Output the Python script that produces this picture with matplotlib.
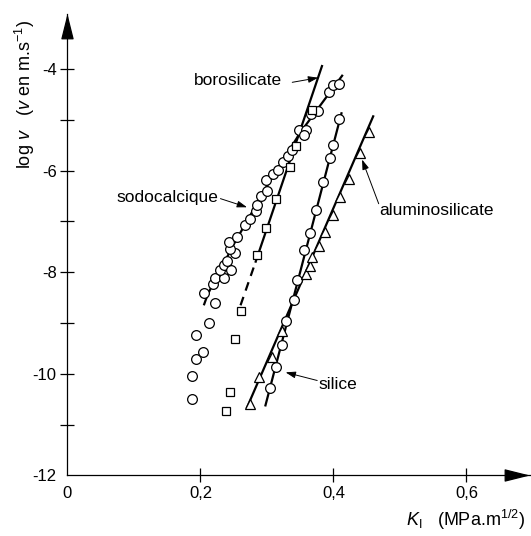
import numpy as np
import matplotlib.pyplot as plt

plt.rcParams['font.family'] = ['Liberation Sans', 'DejaVu Sans']
plt.rcParams['mathtext.fontset'] = 'custom'
plt.rcParams['mathtext.rm'] = 'Liberation Sans'
plt.rcParams['mathtext.it'] = 'Liberation Sans:italic'

# --- data (K_I in MPa.m^1/2, log v) ---
sodo_k = [0.1875, 0.1865, 0.1925, 0.2035, 0.194, 0.2135, 0.2215, 0.206, 0.2185,
          0.2215, 0.235, 0.229, 0.236, 0.246, 0.240, 0.2516, 0.245, 0.2436, 0.255,
          0.2666, 0.275, 0.283, 0.285, 0.291, 0.300, 0.299, 0.309, 0.317, 0.324,
          0.332, 0.338, 0.348, 0.358, 0.355, 0.366, 0.376, 0.393, 0.400, 0.408]
sodo_logv = [-10.49, -10.05, -9.70, -9.56, -9.24, -8.99, -8.61, -8.40, -8.23,
             -8.12, -8.12, -7.96, -7.85, -7.95, -7.78, -7.62, -7.54, -7.41, -7.31,
             -7.06, -6.96, -6.80, -6.67, -6.50, -6.39, -6.19, -6.06, -5.98, -5.82,
             -5.71, -5.59, -5.19, -5.19, -5.29, -4.89, -4.83, -4.45, -4.32, -4.30]

boro_k = [0.239, 0.244, 0.2516, 0.261, 0.285, 0.299, 0.313, 0.334, 0.344, 0.367]
boro_logv = [-10.73, -10.35, -9.31, -8.77, -7.66, -7.12, -6.55, -5.93, -5.51, -4.80]

sil_k = [0.304, 0.314, 0.323, 0.329, 0.341, 0.345, 0.356, 0.365, 0.373, 0.384,
         0.3955, 0.400, 0.408]
sil_logv = [-10.27, -9.87, -9.44, -8.96, -8.54, -8.15, -7.56, -7.22, -6.78, -6.23,
            -5.75, -5.50, -4.98]

alu_k = [0.275, 0.288, 0.308, 0.3225, 0.359, 0.365, 0.367, 0.378, 0.387, 0.400,
         0.4105, 0.423, 0.4406, 0.453]
alu_logv = [-10.60, -10.06, -9.67, -9.15, -8.03, -7.88, -7.69, -7.49, -7.21, -6.88,
            -6.51, -6.16, -5.66, -5.24]

# hand-drawn trend lines (dashed part, solid part)
sodo_dash_k, sodo_dash_v = [0.205, 0.211], [-8.65, -8.43]
sodo_fit_k, sodo_fit_v = [0.211, 0.25, 0.30, 0.35, 0.413], [-8.43, -7.45, -6.30, -5.25, -4.13]
boro_dash_k, boro_dash_v = [0.2602, 0.283], [-8.65, -7.79]
boro_fit_k, boro_fit_v = [0.283, 0.3827], [-7.79, -3.94]
sil_fit_k, sil_fit_v = [0.2977, 0.412], [-10.62, -4.87]
alu_fit_k, alu_fit_v = [0.270, 0.4597], [-10.66, -4.93]

fig = plt.figure(figsize=(5.31, 5.36), dpi=100)
ax = fig.add_axes([0.1271, 0.1129, 0.871, 0.861])

lw = 1.6
ax.plot(sodo_dash_k, sodo_dash_v, color='black', lw=lw, ls=(0, (4, 3)))
ax.plot(sodo_fit_k, sodo_fit_v, color='black', lw=lw)
ax.plot(boro_dash_k, boro_dash_v, color='black', lw=lw, ls=(0, (4, 3)))
ax.plot(boro_fit_k, boro_fit_v, color='black', lw=lw)
ax.plot(sil_fit_k, sil_fit_v, color='black', lw=lw)
ax.plot(alu_fit_k, alu_fit_v, color='black', lw=lw)

mk = dict(ls='none', mfc='white', mec='black', mew=0.9, zorder=3)
ax.plot(sodo_k, sodo_logv, marker='o', ms=7, **mk)
ax.plot(boro_k, boro_logv, marker='s', ms=6.3, **mk)
ax.plot(sil_k, sil_logv, marker='o', ms=7, **mk)
ax.plot(alu_k, alu_logv, marker='^', ms=7, **mk)

# labels with arrows
fs = 12.5
arr = dict(arrowstyle='-|>,head_length=0.6,head_width=0.2', color='black', lw=0.7,
           mutation_scale=10, shrinkA=0, shrinkB=0)
ax.annotate('', xy=(0.377, -4.17), xytext=(0.338, -4.26), arrowprops=arr)
ax.text(0.257, -4.22, 'borosilicate', ha='center', va='center', fontsize=fs)
ax.annotate('', xy=(0.270, -6.72), xytext=(0.230, -6.55), arrowprops=arr)
ax.text(0.227, -6.53, 'sodocalcique', ha='right', va='center', fontsize=fs)
ax.annotate('', xy=(0.443, -5.78), xytext=(0.468, -6.65), arrowprops=arr)
ax.text(0.469, -6.78, 'aluminosilicate', ha='left', va='center', fontsize=fs)
ax.annotate('', xy=(0.328, -9.97), xytext=(0.3755, -10.13), arrowprops=arr)
ax.text(0.378, -10.21, 'silice', ha='left', va='center', fontsize=fs)

# axes
ax.set_xlim(0, 0.6955)
ax.set_ylim(-12, -2.915)
for s in ['top', 'right']:
    ax.spines[s].set_visible(False)
for s in ['left', 'bottom']:
    ax.spines[s].set_linewidth(0.9)

ax.set_xticks([0, 0.2, 0.4, 0.6])
ax.set_xticklabels(['0', '0,2', '0,4', '0,6'])
ax.set_yticks([-12, -10, -8, -6, -4])
ax.set_yticklabels(['-12', '-10', '-8', '-6', '-4'])
ax.set_yticks([-11, -9, -7, -5], minor=True)
ax.tick_params(axis='both', which='both', direction='inout', length=9.5, width=0.9,
               labelsize=12, pad=3)
ax.xaxis.get_major_ticks()[0].tick1line.set_visible(False)
ax.yaxis.get_major_ticks()[0].tick1line.set_visible(False)

# arrow heads on axes
head = dict(arrowstyle='-|>,head_length=1.6,head_width=0.4', color='black', lw=0.9,
            mutation_scale=10, shrinkA=0, shrinkB=0)
ax.annotate('', xy=(0, 1), xycoords='axes fraction', xytext=(0, 0.95),
            textcoords='axes fraction', arrowprops=head, annotation_clip=False)
ax.annotate('', xy=(1, 0), xycoords='axes fraction', xytext=(0.95, 0),
            textcoords='axes fraction', arrowprops=head, annotation_clip=False)

fig.text(0.989, 0.03, r'$K_{\mathrm{I}}$   (MPa.m$^{1/2}$)', ha='right', va='center',
         fontsize=13)
fig.text(0.047, 0.823, r'log $v$   ($v$ en m.s$^{-1}$)', rotation=90, ha='center',
         va='center', fontsize=13)

fig.savefig('out.png', dpi=100)
